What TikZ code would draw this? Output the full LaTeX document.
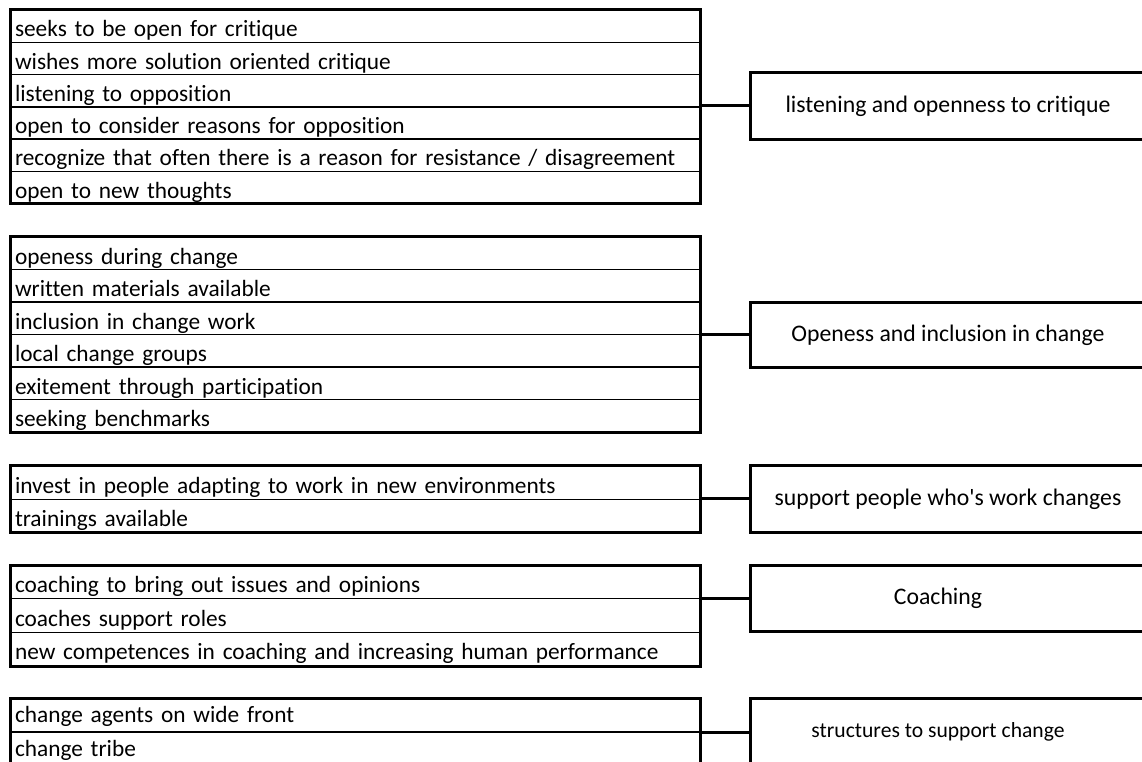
\documentclass[tikz,border=0pt]{standalone}
\usepackage{fontspec}
\newfontfamily\cellface{Carlito}[Ligatures=NoCommon]
\usetikzlibrary{fit}

% 1 unit = 1px = 0.75pt
\tikzset{
  cellfont/.style={font=\cellface\fontsize{17.5}{20}\selectfont},
  rowcell/.style={cellfont, draw=black, line width=1.1pt, rectangle, outer sep=0pt,
    anchor=north west, minimum width=517.5pt, text width=510pt, align=left,
    inner xsep=2.25pt, inner ysep=0pt, text depth=4pt},
  rowA/.style={rowcell, minimum height=24.2pt, text height=20.2pt},
  rowB/.style={rowcell, minimum height=24.4pt, text height=20.4pt},
  rowC/.style={rowcell, minimum height=25.1pt, text height=20.4pt, text depth=4.7pt},
  rowD/.style={rowcell, minimum height=25.3pt, text height=20.6pt, text depth=4.7pt},
  rowE/.style={rowcell, minimum height=25.5pt, text height=18.5pt, text depth=7pt},
  groupbox/.style={draw=black, line width=2.25pt, inner sep=0pt, outer sep=0pt, rectangle},
  themebox/.style={font=\cellface\fontsize{17.8}{20}\selectfont, draw=black, line width=2.25pt,
    rectangle, outer sep=0pt, minimum width=297pt, inner sep=0pt},
  link/.style={draw=black, line width=2.25pt}
}

\begin{document}
\begin{tikzpicture}[x=0.75pt,y=-0.75pt]
\useasboundingbox (0,0) rectangle (1142,762);

% group 1
\node[rowA] (a1) at (10,10) {seeks to be open for critique};
\node[rowA] (a2) at (a1.south west) {wishes more solution oriented critique};
\node[rowA] (a3) at (a2.south west) {listening to opposition};
\node[rowA] (a4) at (a3.south west) {open to consider reasons for opposition};
\node[rowA] (a5) at (a4.south west) {recognize that often there is a reason for resistance / disagreement};
\node[rowA] (a6) at (a5.south west) {open to new thoughts};
\node[groupbox, fit=(a1)(a6)] (g1) {};
\node[themebox, minimum height=50pt] (t1) at (948,106) {listening and openness to critique};
\draw[link] (t1.west -| g1.east) -- (t1.west);

% group 2
\node[rowB] (b1) at (10,237) {openess during change};
\node[rowB] (b2) at (b1.south west) {written materials available};
\node[rowB] (b3) at (b2.south west) {inclusion in change work};
\node[rowB] (b4) at (b3.south west) {local change groups};
\node[rowB] (b5) at (b4.south west) {exitement through participation};
\node[rowB] (b6) at (b5.south west) {seeking benchmarks};
\node[groupbox, fit=(b1)(b6)] (g2) {};
\node[themebox, minimum height=48.75pt] (t2) at (948,335) {Openess and inclusion in change};
\draw[link] (t2.west -| g2.east) -- (t2.west);

% group 3
\node[rowC] (c1) at (10,466) {invest in people adapting to work in new environments};
\node[rowC] (c2) at (c1.south west) {trainings available};
\node[groupbox, fit=(c1)(c2)] (g3) {};
\node[themebox, minimum height=50pt] (t3) at (948,499) {support people who's work changes};
\draw[link] (t3.west -| g3.east) -- (t3.west);

% group 4
\node[rowD] (d1) at (10,565) {coaching to bring out issues and opinions};
\node[rowD] (d2) at (d1.south west) {coaches support roles};
\node[rowD] (d3) at (d2.south west) {new competences in coaching and increasing human performance};
\node[groupbox, fit=(d1)(d3)] (g4) {};
\node[themebox, minimum height=49.5pt] (t4) at (948,598) {\hspace*{-15pt}Coaching};
\draw[link] (t4.west -| g4.east) -- (t4.west);

% group 5
\node[rowE] (e1) at (10,698) {change agents on wide front};
\node[rowE] (e2) at (e1.south west) {change tribe};
\node[groupbox, fit=(e1)(e2)] (g5) {};
\node[themebox, minimum height=51pt, font=\cellface\fontsize{16.2}{18}\selectfont] (t5) at (948,732) {\hspace*{-15pt}structures to support change};
\draw[link] (t5.west -| g5.east) -- (t5.west);
\end{tikzpicture}
\end{document}
